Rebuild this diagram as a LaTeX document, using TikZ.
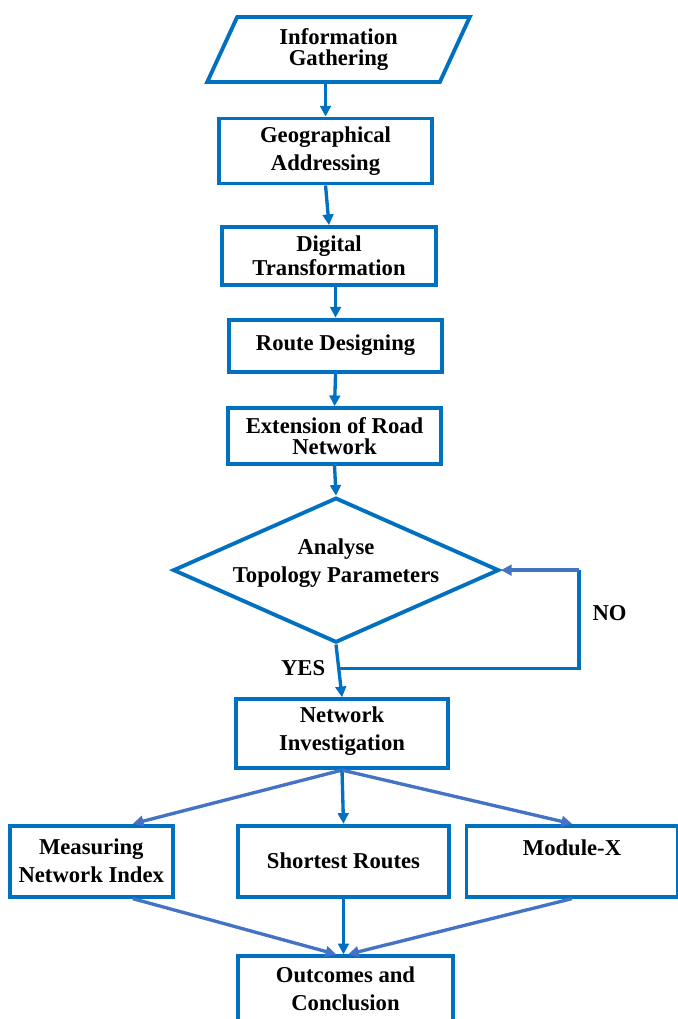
\documentclass[tikz,border=0pt]{standalone}
\usepackage{fontspec}
\setmainfont{Liberation Serif}
\usepackage{xcolor}
\usetikzlibrary{arrows.meta, positioning, shapes.geometric, calc}
\definecolor{boxblue}{HTML}{0070C0}
\definecolor{lineblue}{HTML}{4472C4}

\begin{document}
\begin{tikzpicture}[
    font=\fontsize{17}{21}\selectfont\bfseries,
    proc/.style={rectangle, draw=boxblue, line width=2.9pt, minimum width=160pt, minimum height=48pt, align=center, inner sep=2pt},
    io/.style={trapezium, trapezium left angle=69, trapezium right angle=111, trapezium stretches=true, draw=boxblue, line width=2.9pt, minimum width=197pt, minimum height=48.75pt, align=center, inner sep=2pt},
    decide/.style={diamond, draw=boxblue, line width=2.9pt, minimum width=244.5pt, minimum height=108.75pt, inner sep=0pt},
    flow/.style={-{Triangle[length=8pt,width=8pt]}, line width=2.5pt, draw=boxblue},
    flowb/.style={flow, draw=lineblue},
    edge_lbl/.style={font=\fontsize{17}{21}\selectfont\bfseries, inner sep=1pt}
]
    \useasboundingbox (0,0) rectangle (507.75pt,-764.25pt);

    \node[io, font=\fontsize{17}{16}\selectfont\bfseries] (info) at (253.9pt,-37.1pt) {Information\\Gathering};
    \node[proc, below=24.5pt of info, xshift=-9.75pt, minimum height=48.75pt] (geo) {Geographical\\Addressing};
    \node[proc, below=29.75pt of geo, xshift=2.6pt, minimum height=43.5pt, font=\fontsize{17}{18}\selectfont\bfseries] (dig) {Digital\\Transformation};
    \node[proc, below=23pt of dig, xshift=4.9pt, minimum height=39pt] (route) {Route Designing};
    \node[proc, below=24.5pt of route, xshift=-0.75pt, minimum height=42pt, font=\fontsize{17}{16}\selectfont\bfseries] (ext) {Extension of Road\\Network};
    \node[decide, below=22.25pt of ext, xshift=1.1pt] (dec) {};
    \node[align=center, yshift=5pt] (dectxt) at (dec) {Analyse\\Topology Parameters};
    \node[proc, below=39.5pt of dec, xshift=4.5pt, minimum width=159pt, minimum height=51.75pt, text depth=8pt] (ni) {Network\\Investigation};

    \node[proc, below=40.25pt of ni, xshift=1.1pt, minimum width=158.25pt, minimum height=53.25pt] (sr) {Shortest Routes};
    \node[proc, left=46pt of sr, minimum width=122.25pt, minimum height=53.25pt] (mni) {Measuring\\Network Index};
    \node[proc, right=10.25pt of sr, minimum width=158.25pt, minimum height=53.25pt] (modx) {Module-X\\~};
    \node[proc, below=41.75pt of sr, xshift=1.5pt, minimum width=161.25pt, minimum height=48.75pt] (out) {Outcomes and\\Conclusion};

    \draw[flow] (info.south -| geo.north) -- (geo.north);
    \draw[flow] (geo.south) -- (dig.north);
    \draw[flow] (dig.south -| route.north) -- (route.north);
    \draw[flow] (route.south) -- (ext.north);
    \draw[flow] (ext.south) -- (dec.north);
    \draw[flow] (dec.south) -- coordinate[pos=0.45] (yes) (ni.north);
    \node[edge_lbl, left=9pt of yes] (yeslbl) {YES};
    \coordinate[right=58.5pt of dec.east] (turn);
    \draw[line width=2.5pt, draw=boxblue] (yes) -| node[edge_lbl, pos=0.78, right=8pt] (nolbl) {NO} (turn);
    \draw[flowb] (turn) -- (dec.east);

    \draw[flowb] (ni.south) -- (mni.42);
    \draw[flow] (ni.south) -- (sr.north);
    \draw[flowb] (ni.south) -- (modx.north);
    \draw[flowb] (mni.318) -- ($(out.north)+(-7pt,0)$);
    \draw[flow] (sr.south) -- (sr.south |- out.north);
    \draw[flowb] (modx.south) -- ($(out.north)+(2pt,0)$);
\end{tikzpicture}
\end{document}
